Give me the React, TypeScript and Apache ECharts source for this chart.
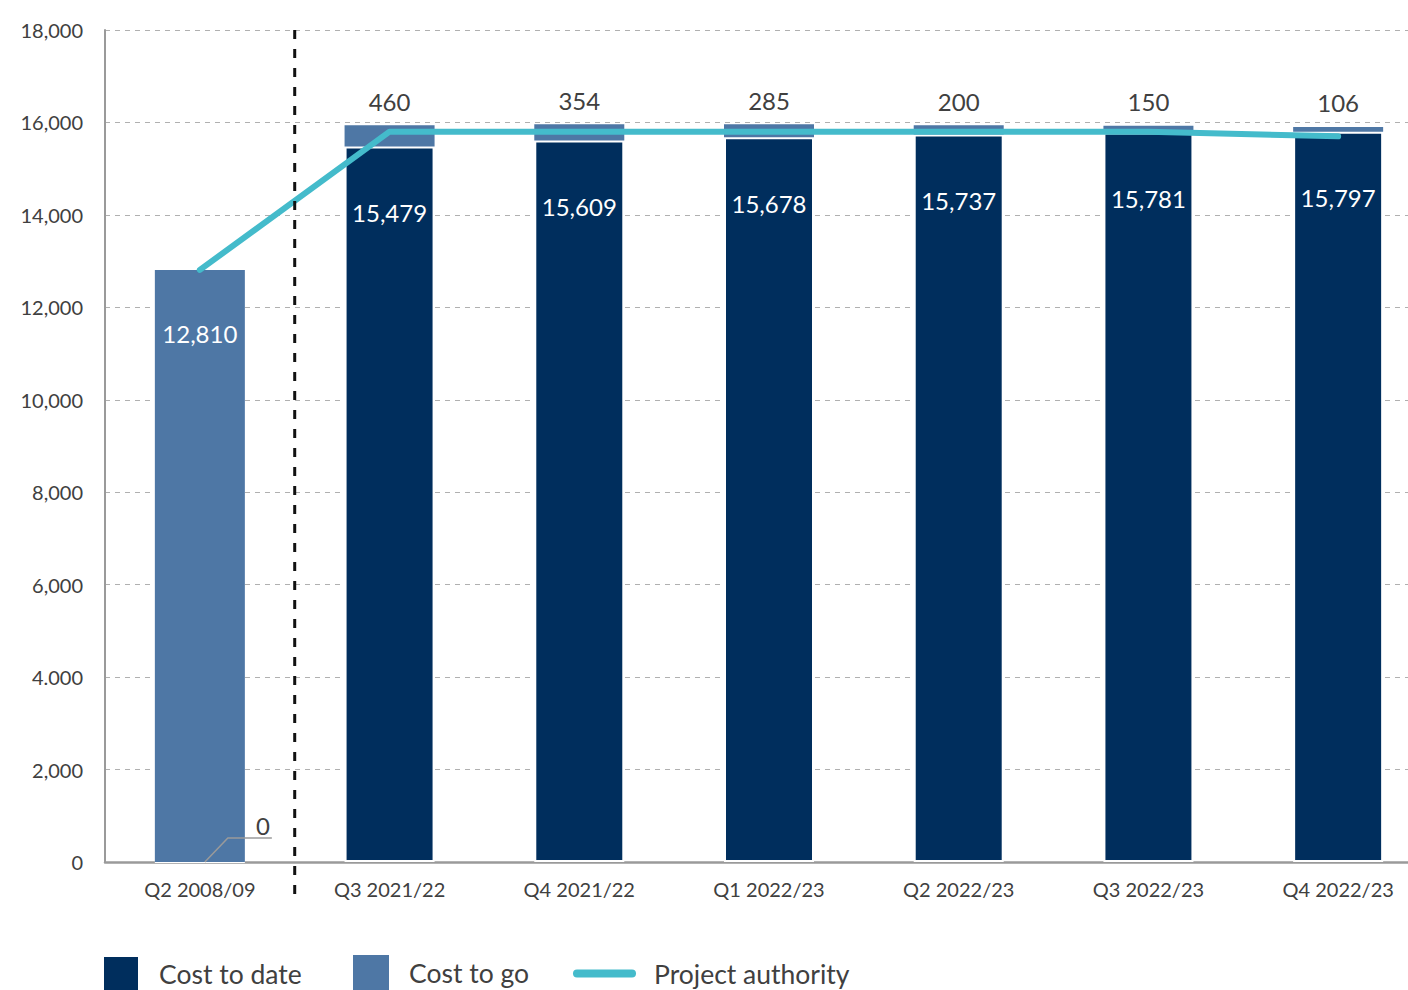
import React, { useEffect, useRef } from "react";
import * as echarts from "echarts";

const categories = ["Q2 2008/09", "Q3 2021/22", "Q4 2021/22", "Q1 2022/23", "Q2 2022/23", "Q3 2022/23", "Q4 2022/23"];
const costToDate = [0, 15479, 15609, 15678, 15737, 15781, 15797];
const costToGo = [12810, 460, 354, 285, 200, 150, 106];
const projectAuthority = [12810, 15800, 15800, 15800, 15800, 15800, 15700];
const yTickLabels = ["0", "2,000", "4.000", "6,000", "8,000", "10,000", "12,000", "14,000", "16,000", "18,000"];

const FONT = "Lato, 'Noto Sans', sans-serif";
const DARK = "#002E5D";
const LIGHT = "#4E77A5";
const TEAL = "#44BBCB";
const TEXT = "#404040";

const legendText = (pad: number) => ({
  fontSize: 26.5,
  lineHeight: 26,
  color: TEXT,
  fontFamily: FONT,
  padding: [0, 0, 0, pad],
});

export default function App() {
  const ref = useRef<HTMLDivElement>(null);
  useEffect(() => {
    if (!ref.current) return;
    const chart = echarts.init(ref.current, null, { renderer: "svg" });
    const option: any = {
      animation: false,
      textStyle: { fontFamily: FONT },
      grid: { left: 105, right: 0, top: 30, bottom: 128, containLabel: false },
      legend: [
        {
          left: 102,
          top: 955,
          padding: 0,
          itemWidth: 36,
          itemHeight: 36,
          icon: "rect",
          textStyle: legendText(15),
          data: ["Cost to date"],
        },
        {
          left: 353,
          top: 955,
          padding: 0,
          itemWidth: 36,
          itemHeight: 36,
          icon: "rect",
          textStyle: legendText(15),
          data: ["Cost to go"],
        },
        {
          left: 573,
          top: 960,
          padding: 0,
          itemWidth: 63,
          itemHeight: 8,
          icon: "path://M4,0 H59 A4,4 0 0 1 59,8 H4 A4,4 0 0 1 4,0 Z",
          textStyle: legendText(13),
          data: ["Project authority"],
        },
      ],
      xAxis: {
        type: "category",
        data: categories,
        axisLine: { show: true, lineStyle: { color: "#9a9a9a", width: 2.5 } },
        axisTick: { show: false },
        axisLabel: { fontSize: 20, color: TEXT, margin: 17, fontFamily: FONT },
      },
      yAxis: {
        type: "value",
        min: 0,
        max: 18000,
        interval: 2000,
        axisLine: { show: true, lineStyle: { color: "#9a9a9a", width: 2 } },
        axisTick: { show: false },
        axisLabel: {
          fontSize: 20,
          color: TEXT,
          margin: 22,
          fontFamily: FONT,
          formatter: (v: number) => yTickLabels[Math.round(v / 2000)],
        },
        splitLine: { show: true, lineStyle: { color: "#b0b0b0", type: [5, 5], width: 1 } },
      },
      series: [
        {
          name: "Cost to date",
          type: "bar",
          stack: "cost",
          barWidth: 90,
          itemStyle: { color: DARK, borderColor: "#ffffff", borderWidth: 2 },
          data: costToDate.map((v, i) => ({
            value: v,
            label: { show: i > 0 },
          })),
          label: {
            show: true,
            position: "insideTop",
            distance: 54,
            color: "#ffffff",
            fontSize: 24,
            fontFamily: FONT,
            formatter: (p: any) => p.value.toLocaleString("en-US"),
          },
        },
        {
          name: "Cost to go",
          type: "bar",
          stack: "cost",
          barWidth: 90,
          itemStyle: { color: LIGHT },
          data: costToGo.map((v, i) =>
            i === 0
              ? {
                  value: v,
                  label: { position: "insideTop", distance: 52, color: "#ffffff" },
                }
              : { value: v }
          ),
          label: {
            show: true,
            position: "top",
            distance: 12,
            color: TEXT,
            fontSize: 24,
            fontFamily: FONT,
            formatter: (p: any) => p.value.toLocaleString("en-US"),
          },
        },
        {
          name: "Project authority",
          type: "line",
          data: projectAuthority,
          symbol: "none",
          z: 5,
          lineStyle: { color: TEAL, width: 6, cap: "round", join: "round" },
          itemStyle: { color: TEAL },
        },
        {
          name: "divider",
          type: "custom",
          silent: true,
          z: 10,
          clip: false,
          data: [[0, 0]],
          renderItem: (params: any, api: any) => {
            const base = api.coord([0, 0]);
            const top = api.coord([0, 18000]);
            const w = api.size([1, 0])[0];
            const x = base[0] + w / 2;
            const cx = base[0];
            const y = base[1];
            return {
              type: "group",
              children: [
                {
                  type: "line",
                  shape: { x1: x, y1: top[1], x2: x, y2: y + 36 },
                  style: { stroke: "#111111", lineWidth: 3, lineDash: [9, 10] },
                },
                {
                  type: "polyline",
                  shape: { points: [[cx + 5, y], [cx + 28, y - 24], [cx + 72, y - 24]] },
                  style: { stroke: "#9a9a9a", lineWidth: 1.5, fill: "none" },
                },
                {
                  type: "text",
                  x: cx + 63,
                  y: y - 25,
                  style: {
                    text: String(costToDate[0]),
                    fontSize: 24,
                    fontFamily: FONT,
                    fill: TEXT,
                    align: "center",
                    verticalAlign: "bottom",
                  },
                },
              ],
            };
          },
        },
      ],
    };
    chart.setOption(option);
    return () => chart.dispose();
  }, []);
  return (
    <div
      style={{
        position: "fixed",
        left: 0,
        top: 0,
        width: 1408,
        height: 990,
        overflow: "hidden",
        background: "#ffffff",
      }}
    >
      <div ref={ref} style={{ width: 1433, height: 990 }} />
    </div>
  );
}
